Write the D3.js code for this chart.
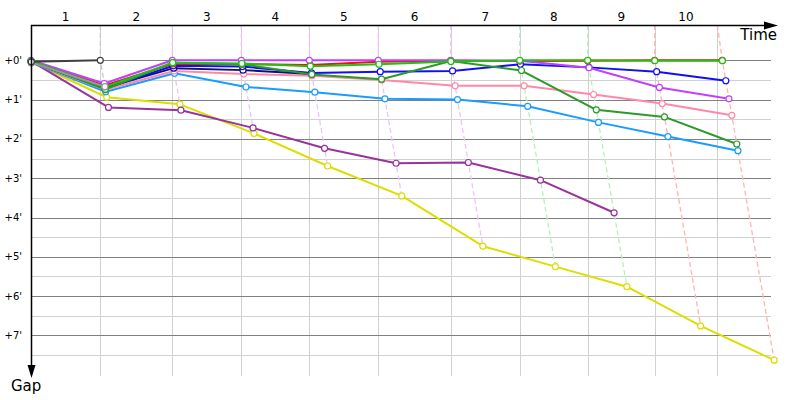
<!DOCTYPE html>
<html><head><meta charset="utf-8">
<script src="https://cdn.jsdelivr.net/npm/d3@7"></script>
<style>body{margin:0;background:#fff}svg{display:block}</style>
</head><body><svg id="c" width="800" height="400"></svg>
<script>
// Leader cumulative time (minutes) at each lap end (lap 0 = start)
const leaderTime = [0, 10.19, 20.78, 30.93, 40.93, 51.07, 61.72, 71.87, 81.87, 91.72, 101.66];
// Lap boundary grid lines (minutes)
const lapLines = [10.19, 20.78, 30.93, 40.93, 51.07, 61.72, 71.87, 81.87, 91.72, 100.93];
const lapLabels = ["1","2","3","4","5","6","7","8","9","10"];
const lapDashColors = ["#c8c8c8","#f0c0ff","#f0c0ff","#f0c0ff","#f0c0ff","#f0c0ff","#b8f0b8","#b8f0b8","#ffb4b4","#ffb4b4"];
const gapTicks = [0,1,2,3,4,5,6,7];
const gapMinor = [0.5,1.5,2.5,3.5,4.5,5.5,6.5,7.5];

// Gaps (minutes) per lap, index 0 = start
const black     = [0.04, 0];
const gray      = [0.06, 0.67];
const yellow    = [0.05, 0.94, 1.12, 1.86, 2.69, 3.45, 4.73, 5.25, 5.76, 6.76, 7.63];
const purple    = [0.02, 1.20, 1.27, 1.72, 2.24, 2.62, 2.60, 3.05, 3.88];
const lightblue = [0.06, 0.80, 0.33, 0.68, 0.81, 0.98, 1.00, 1.17, 1.58, 1.94, 2.30];
const pink      = [0.05, 0.75, 0.27, 0.35, 0.39, 0.50, 0.65, 0.65, 0.87, 1.10, 1.40];
const navy      = [0.05, 0.70, 0.20, 0.25, 0.35];
const blue      = [0.03, 0.72, 0.14, 0.16, 0.32, 0.29, 0.27, 0.10, 0.18, 0.29, 0.52];
const red       = [0.02, 0.64, 0.09, 0.10, 0.12, 0.04, 0.01, 0.02, 0.01, 0, 0];
const magenta   = [0.00, 0.59, 0, 0, 0, 0, 0, 0.01, 0.19, 0.69, 0.98];
const darkgreen = [0.03, 0.74, 0.06, 0.10, 0.36, 0.48, 0.02, 0.26, 1.26, 1.44, 2.13];
const green     = [0.02, 0.68, 0.06, 0.08, 0.15, 0.10, 0.03, 0, 0, 0.01, 0.01];

const series = [
  {c:"#dddd00", v:yellow},
  {c:"#993399", v:purple}, {c:"#1a9cff", v:lightblue}, {c:"#ff88a8", v:pink},
  {c:"#101070", v:navy}, {c:"#1010f0", v:blue}, {c:"#ee1111", v:red},
  {c:"#c040ff", v:magenta}, {c:"#2a9a2a", v:darkgreen}, {c:"#22c010", v:green},
  {c:"#999999", v:gray}, {c:"#404040", v:black}
];

const svg = d3.select("#c");
const x = d3.scaleLinear().domain([0, 100]).range([31, 711]);
const y = d3.scaleLinear().domain([0, 7]).range([60.3, 335.4]);
const T0 = 25, L0 = 31, R0 = 771, B0 = 376;
const font = "Tahoma, 'DejaVu Sans', sans-serif";

// minor horizontal grid
svg.append("g").selectAll("line").data(gapMinor).join("line")
  .attr("x1", L0).attr("x2", R0).attr("y1", d=>Math.round(y(d))+0.5).attr("y2", d=>Math.round(y(d))+0.5)
  .attr("stroke", "#d0d0d0");
// vertical lap lines
svg.append("g").selectAll("line").data(lapLines).join("line")
  .attr("x1", d=>Math.round(x(d))+0.5).attr("x2", d=>Math.round(x(d))+0.5).attr("y1", T0).attr("y2", B0)
  .attr("stroke", "#d0d0d0");
// major horizontal grid
svg.append("g").selectAll("line").data(gapTicks).join("line")
  .attr("x1", L0).attr("x2", R0).attr("y1", d=>Math.round(y(d))+0.5).attr("y2", d=>Math.round(y(d))+0.5)
  .attr("stroke", "#808080");

// tick labels
svg.append("g").selectAll("text").data(gapTicks).join("text")
  .attr("x", 22).attr("y", d=>y(d)).attr("dy", "0.35em").attr("text-anchor", "end")
  .attr("font-family", font).attr("font-size", 10).attr("fill", "#000")
  .text(d=>"+" + d + "'");

// lap labels
svg.append("g").selectAll("text").data(lapLabels).join("text")
  .attr("x", (d,i)=> (x(i===0?0:lapLines[i-1]) + x(lapLines[i]))/2).attr("y", 21)
  .attr("text-anchor", "middle").attr("font-family", font).attr("font-size", 12).attr("fill", "#000")
  .text(d=>d);

// dashed lap isochrones
lapLabels.forEach((lab, i) => {
  const k = i + 1;
  let maxGap = 0;
  series.forEach(s => { if (s.v[k] != null && s.v[k] > maxGap) maxGap = s.v[k]; });
  const pts = [[x(lapLines[i]), T0], [x(leaderTime[k]), y(0)], [x(leaderTime[k] + maxGap), y(maxGap)]];
  svg.append("path").attr("d", d3.line()(pts)).attr("fill", "none")
    .attr("stroke", lapDashColors[i]).attr("stroke-width", 1.3).attr("stroke-dasharray", "5,3");
});

// series
const line = d3.line().x(d=>x(leaderTime[d.k] + d.g)).y(d=>y(d.g));
series.forEach(s => {
  const pts = s.v.map((g,k)=>({k, g}));
  svg.append("path").attr("d", line(pts)).attr("fill", "none")
    .attr("stroke", s.c).attr("stroke-width", 2).attr("stroke-linejoin", "round");
  svg.append("g").selectAll("circle").data(pts).join("circle")
    .attr("cx", d=>x(leaderTime[d.k] + d.g)).attr("cy", d=>y(d.g)).attr("r", 3)
    .attr("fill", "#fff").attr("stroke", s.c).attr("stroke-width", 1.2);
});

// axes
svg.append("line").attr("x1", L0).attr("x2", 770).attr("y1", T0+0.5).attr("y2", T0+0.5).attr("stroke", "#000").attr("stroke-width", 1.5);
svg.append("path").attr("d", `M778,${T0+0.5} L764,${T0-3.5} L764,${T0+4.5} Z`).attr("fill", "#000");
svg.append("line").attr("x1", L0+0.5).attr("x2", L0+0.5).attr("y1", T0).attr("y2", 370).attr("stroke", "#000").attr("stroke-width", 1.5);
svg.append("path").attr("d", `M${L0+0.5},378 L${L0-3.5},365 L${L0+4.5},365 Z`).attr("fill", "#000");
svg.append("text").attr("x", 777).attr("y", 40).attr("text-anchor", "end").attr("font-family", font).attr("font-size", 15).text("Time");
svg.append("text").attr("x", 11).attr("y", 391).attr("font-family", font).attr("font-size", 15).text("Gap");
</script></body></html>
